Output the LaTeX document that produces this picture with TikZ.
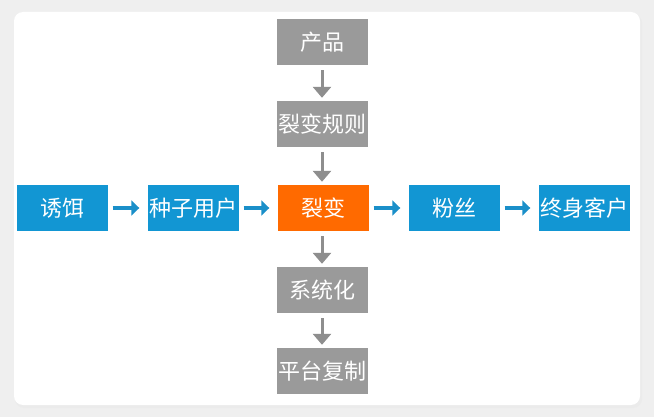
\documentclass[tikz,border=0pt]{standalone}
\usepackage{fontspec}
\newfontfamily\cjk{Noto Sans CJK SC}
\usetikzlibrary{arrows.meta}
\definecolor{bgc}{HTML}{EFEFEF}
\definecolor{bluec}{HTML}{1296D3}
\definecolor{orangec}{HTML}{FF6A00}
\definecolor{grayc}{HTML}{9A9A9A}
\definecolor{garrow}{HTML}{8E8E8E}
\definecolor{barrow}{HTML}{1A8FC9}
\tikzset{
  box/.style={rectangle, minimum width=91pt, minimum height=46pt, inner sep=0pt,
    text=white, font=\cjk\fontsize{22}{22}\selectfont},
  bluebox/.style={box, fill=bluec},
  graybox/.style={box, fill=grayc},
  orangebox/.style={box, fill=orangec},
  harrow/.style={draw=barrow, line width=3.5pt, -{Triangle[length=8pt,width=15pt]}, shorten <=5pt, shorten >=8pt},
  varrow/.style={draw=garrow, line width=3pt, -{Triangle[length=11pt,width=18pt]}, shorten <=5pt, shorten >=3pt}
}
\begin{document}
\begin{tikzpicture}[x=1pt,y=-1pt]
\useasboundingbox (0,0) rectangle (654,417);
\fill[bgc] (0,0) rectangle (654,417);
\fill[black!8] (15,14) [rounded corners=9pt] rectangle (642,408);
\fill[white, rounded corners=9pt] (14,12) rectangle (640,405);
\node[graybox] (p) at (322,42) {产品};
\node[graybox] (r) at (322,124) {裂变规则};
\node[bluebox] (y) at (62,208) {诱饵};
\node[bluebox] (z) at (193,208) {种子用户};
\node[orangebox] (l) at (323,208) {裂变};
\node[bluebox] (f) at (454,208) {粉丝};
\node[bluebox] (k) at (584,208) {终身客户};
\node[graybox] (s) at (322,290) {系统化};
\node[graybox] (t) at (322,371) {平台复制};
\draw[varrow] (p) -- (r);
\draw[varrow] (r) -- (r |- l.north);
\draw[varrow] (l.south -| s) -- (s);
\draw[varrow] (s) -- (t);
\draw[harrow] (y) -- (z);
\draw[harrow] (z) -- (l);
\draw[harrow] (l) -- (f);
\draw[harrow] (f) -- (k);
\end{tikzpicture}
\end{document}
